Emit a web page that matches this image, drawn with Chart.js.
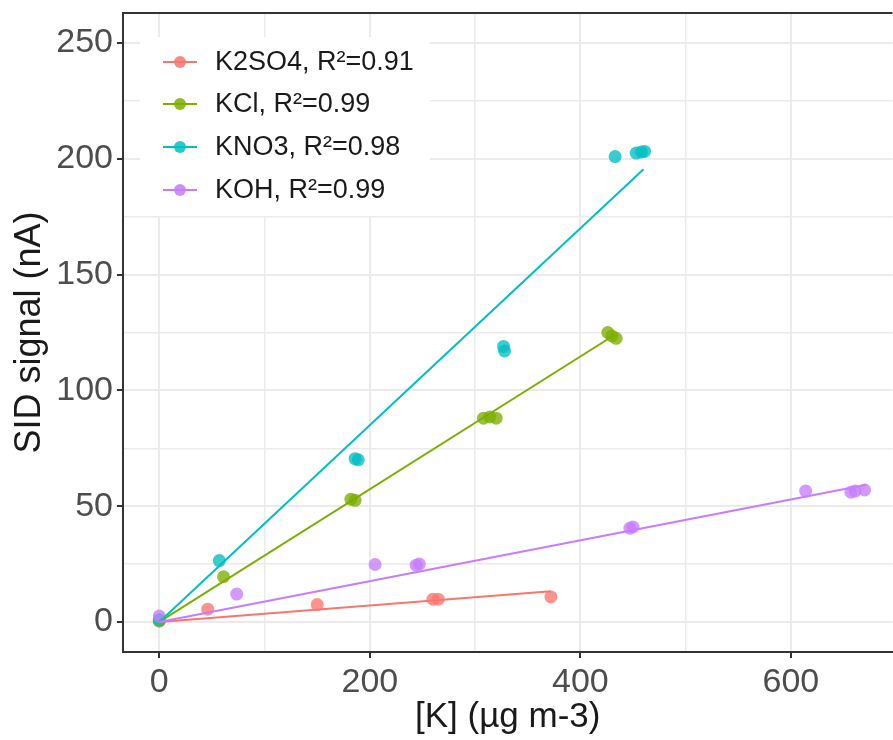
<!DOCTYPE html>
<html>
<head>
<meta charset="utf-8">
<script src="https://cdn.jsdelivr.net/npm/chart.js@4.4.1/dist/chart.umd.min.js"></script>
<style>
  body { margin: 0; background: #fff; overflow: hidden; }
  canvas { display: block; }
</style>
</head>
<body>
<canvas id="chart-canvas" width="899" height="740"></canvas>
<script>
// ---- data ----
var seriesNames = ["K2SO4, R\u00b2=0.91", "KCl, R\u00b2=0.99", "KNO3, R\u00b2=0.98", "KOH, R\u00b2=0.99"];
var seriesColors = ["#F8766D", "#7CAE00", "#00BFC4", "#C77CFF"];

var k2so4X = [0, 46, 150, 260, 265, 372];
var k2so4Y = [0.3, 5.5, 7.5, 9.8, 9.8, 10.8];
var kclX = [0, 61, 182, 186, 308, 314, 320, 426, 430, 434];
var kclY = [0.5, 19.5, 53, 52.5, 88, 88.5, 88, 125, 123.5, 122.5];
var kno3X = [0, 57, 186, 189, 327, 328, 433, 453, 458, 461];
var kno3Y = [1, 26.5, 70.5, 70, 119, 117, 201, 202.5, 203, 203.2];
var kohX = [0, 73.5, 205, 244, 247, 447, 450, 614, 657, 661, 670];
var kohY = [2.5, 12, 24.8, 24.5, 25, 40.5, 41, 56.5, 56, 56.5, 57];

// fitted lines (end points)
var fitX = [[0, 372], [0, 432], [0, 460], [0, 672]];
var fitY = [[0, 13.2], [0, 123.8], [0, 195.5], [0, 59.2]];

var xTicks = [0, 100, 200, 300, 400, 500, 600];
var yTicks = [0, 25, 50, 75, 100, 125, 150, 175, 200, 225, 250];

var FONT = "'Liberation Sans', Arial, sans-serif";

function pts(xs, ys) {
    return xs.map(function (x, i) { return { x: x, y: ys[i] }; });
}
function alpha(hex, a) {
    var n = parseInt(hex.slice(1), 16);
    return "rgba(" + (n >> 16) + "," + ((n >> 8) & 255) + "," + (n & 255) + "," + a + ")";
}

var pointSets = [pts(k2so4X, k2so4Y), pts(kclX, kclY), pts(kno3X, kno3Y), pts(kohX, kohY)];

var datasets = [];
pointSets.forEach(function (d, i) {
    datasets.push({
        label: seriesNames[i],
        data: d,
        showLine: false,
        pointRadius: 6.5,
        pointHoverRadius: 6.5,
        pointBorderWidth: 0,
        pointBackgroundColor: alpha(seriesColors[i], 0.78),
        order: 10 - i
    });
    datasets.push({
        label: seriesNames[i] + " fit",
        data: pts(fitX[i], fitY[i]),
        showLine: true,
        borderColor: seriesColors[i],
        borderWidth: 2,
        pointRadius: 0,
        order: 5 - i
    });
});

// frame top line + legend box inside the panel
var panelExtras = {
    id: "panelExtras",
    afterDraw: function (chart) {
        var c = chart.ctx, a = chart.chartArea;
        c.save();
        c.strokeStyle = "#333333";
        c.lineWidth = 2;
        c.beginPath();
        c.moveTo(a.left, a.top);
        c.lineTo(a.right, a.top);
        c.stroke();

        c.fillStyle = "#ffffff";
        c.fillRect(140, 37, 290, 179);
        var rows = [62, 104, 147, 190];
        c.font = "27px " + FONT;
        c.textBaseline = "middle";
        c.textAlign = "left";
        rows.forEach(function (y, i) {
            c.strokeStyle = seriesColors[i];
            c.lineWidth = 2;
            c.beginPath();
            c.moveTo(163, y);
            c.lineTo(197, y);
            c.stroke();
            c.fillStyle = alpha(seriesColors[i], 0.85);
            c.beginPath();
            c.arc(180, y, 6, 0, Math.PI * 2);
            c.fill();
            c.fillStyle = "#1a1a1a";
            c.fillText(seriesNames[i], 215, y + 1);
        });
        c.restore();
    }
};

var ctx = document.getElementById("chart-canvas").getContext("2d");
var myChart = new Chart(ctx, {
    type: "scatter",
    data: { datasets: datasets },
    options: {
        responsive: false,
        animation: false,
        devicePixelRatio: 1,
        layout: { padding: { top: 13, right: 0, left: 0, bottom: 0 } },
        plugins: { legend: { display: false }, tooltip: { enabled: false } },
        scales: {
            x: {
                type: "linear",
                min: -34.5,
                max: 696.5,
                afterBuildTicks: function (s) { s.ticks = xTicks.map(function (v) { return { value: v }; }); },
                afterFit: function (s) { s.height = 88; s.paddingLeft = 0; s.paddingRight = 0; },
                border: { color: "#333333", width: 2 },
                grid: {
                    color: "#EBEBEB",
                    lineWidth: function (c) { return c.tick && c.tick.value % 200 === 0 ? 2 : 1.5; },
                    tickColor: function (c) { return c.tick && c.tick.value % 200 === 0 ? "#333333" : "rgba(0,0,0,0)"; },
                    tickLength: 6
                },
                ticks: {
                    autoSkip: false,
                    maxRotation: 0,
                    padding: 4,
                    color: "#4D4D4D",
                    font: { family: FONT, size: 34 },
                    callback: function (v) { return v % 200 === 0 ? v : ""; }
                },
                title: {
                    display: true,
                    text: "[K] (\u00b5g m-3)",
                    color: "#1a1a1a",
                    font: { family: FONT, size: 35 },
                    padding: { top: 0, bottom: 2 }
                }
            },
            y: {
                type: "linear",
                min: -13,
                max: 263,
                afterBuildTicks: function (s) { s.ticks = yTicks.map(function (v) { return { value: v }; }); },
                afterFit: function (s) { s.width = 123; s.paddingTop = 0; s.paddingBottom = 0; },
                border: { color: "#333333", width: 2 },
                grid: {
                    color: "#EBEBEB",
                    lineWidth: function (c) { return c.tick && c.tick.value % 50 === 0 ? 2 : 1.5; },
                    tickColor: function (c) { return c.tick && c.tick.value % 50 === 0 ? "#333333" : "rgba(0,0,0,0)"; },
                    tickLength: 6
                },
                ticks: {
                    autoSkip: false,
                    padding: 4,
                    color: "#4D4D4D",
                    font: { family: FONT, size: 34 },
                    callback: function (v) { return v % 50 === 0 ? v : ""; }
                },
                title: {
                    display: true,
                    text: "SID signal (nA)",
                    color: "#1a1a1a",
                    font: { family: FONT, size: 36 },
                    padding: { top: 8, bottom: 0 }
                }
            }
        }
    },
    plugins: [panelExtras]
});
</script>
</body>
</html>
